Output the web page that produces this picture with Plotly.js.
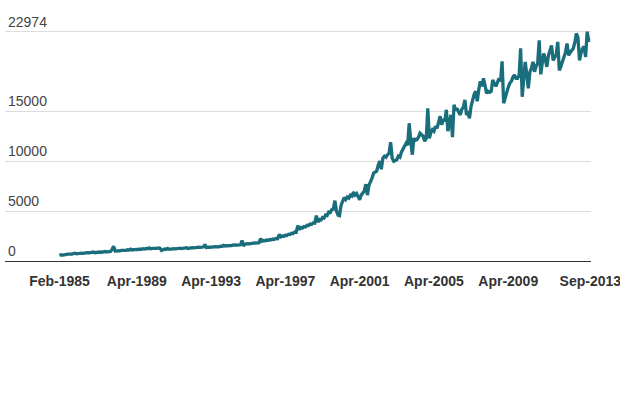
<!DOCTYPE html>
<html>
<head>
<meta charset="utf-8">
<script src="https://cdn.plot.ly/plotly-3.0.1.min.js"></script>
<style>
  html, body { margin: 0; padding: 0; background: #fff; }
  #chart { width: 620px; height: 400px; }
</style>
</head>
<body>
<div id="chart"></div>
<script>
// Monthly values, Feb-1985 .. Sep-2013, one row per year
const startMonth = '1985-02';
const values = [
  550, 620, 590, 650, 630, 680, 660, 710, 690, 740, 780,                       // 1985 (Feb-Dec)
  720, 760, 740, 790, 770, 820, 790, 840, 810, 860, 830, 900,                  // 1986
  830, 870, 850, 900, 880, 930, 900, 950, 920, 980, 960, 1150,                 // 1987
  1480, 1000, 980, 1030, 1010, 1060, 1040, 1090, 1060, 1120, 1090, 1180,       // 1988
  1100, 1140, 1120, 1170, 1150, 1200, 1170, 1230, 1200, 1260, 1230, 1320,      // 1989
  1220, 1260, 1240, 1290, 1270, 1310, 1280, 1050, 1150, 1200, 1180, 1260,      // 1990
  1170, 1210, 1190, 1240, 1220, 1260, 1230, 1280, 1250, 1300, 1270, 1340,      // 1991
  1260, 1300, 1280, 1330, 1310, 1360, 1330, 1390, 1360, 1420, 1400, 1650,      // 1992
  1340, 1380, 1360, 1410, 1390, 1430, 1400, 1450, 1420, 1480, 1460, 1560,      // 1993
  1490, 1530, 1510, 1560, 1540, 1590, 1560, 1610, 1590, 1640, 1620, 2050,      // 1994
  1520, 1700, 1680, 1740, 1720, 1780, 1750, 1820, 1800, 1860, 1840, 2250,      // 1995
  1980, 2050, 2020, 2100, 2080, 2150, 2120, 2200, 2180, 2260, 2240, 2650,      // 1996
  2420, 2500, 2480, 2580, 2560, 2680, 2650, 2780, 2760, 2900, 2880, 3550,      // 1997
  3150, 3350, 3300, 3450, 3420, 3580, 3550, 3700, 3680, 3820, 3800, 4550,      // 1998
  3900, 4150, 4100, 4350, 4300, 4600, 4550, 4900, 4850, 5150, 5200, 6050,      // 1999
  5000, 4600, 4550, 5600, 6000, 6350, 6150, 6400, 6300, 6600, 6500, 6900,      // 2000
  6600, 6750, 6450, 6150, 6600, 6800, 7000, 7700, 6600, 7600, 7900, 8300,      // 2001
  8800, 8900, 9000, 9600, 10000, 9200, 10300, 10500, 10400, 10650, 10800, 11900, // 2002
  10300, 10000, 10100, 10150, 10500, 10400, 10900, 11150, 11500, 11800, 11600, 13800, // 2003
  12000, 10650, 12300, 12100, 12150, 12400, 12800, 12600, 12500, 12000, 12300, 15300, // 2004
  12300, 12900, 13150, 13000, 13500, 13300, 13800, 14500, 13650, 14200, 14000, 15150, // 2005
  13000, 14200, 14650, 12400, 15650, 15100, 15300, 14900, 14650, 15200, 15400, 16150, // 2006
  14650, 14800, 14300, 15500, 16300, 16700, 17000, 16000, 17200, 18000, 17500, 18300, // 2007
  17600, 16800, 17000, 16900, 17000, 18150, 17800, 17500, 17900, 18300, 18000, 20000, // 2008
  15800, 16400, 16800, 17400, 17800, 18000, 18400, 18650, 18300, 18300, 18600, 21300, // 2009
  16450, 18500, 19950, 18700, 17300, 18950, 19300, 19950, 18950, 19500, 19800, 22100, // 2010
  18700, 19900, 20800, 20200, 19450, 20600, 21000, 21600, 20100, 20500, 20700, 21950, // 2011
  19100, 19500, 20000, 20300, 20900, 21800, 20600, 20900, 21100, 21300, 21900, 22800, // 2012
  22400, 20100, 20800, 21300, 21500, 20450, 22974, 22100, 22100                // 2013 (Jan-Sep)
];

const xTicks = ['1985-02-01', '1989-04-01', '1993-04-01', '1997-04-01',
                '2001-04-01', '2005-04-01', '2009-04-01', '2013-09-01'];
const yTicks = [0, 5000, 10000, 15000, 22974];

// month labels for each value
function monthDates(start, n) {
  let [y, m] = start.split('-').map(Number);
  const out = [];
  for (let k = 0; k < n; k++) {
    out.push(y + '-' + String(m).padStart(2, '0') + '-01');
    m++;
    if (m > 12) { m = 1; y++; }
  }
  return out;
}

const dates = monthDates(startMonth, values.length);

const trace = {
  x: dates,
  y: values,
  type: 'scatter',
  mode: 'lines',
  line: { color: '#1a6e7b', width: 3.3 },
  hoverinfo: 'x+y'
};

Plotly.newPlot('chart', [trace], {
  width: 620,
  height: 400,
  margin: { l: 5, r: 29, t: 0, b: 139 },
  paper_bgcolor: 'white',
  plot_bgcolor: 'white',
  showlegend: false,
  font: { family: 'Liberation Sans, Arial, sans-serif' },
  xaxis: {
    type: 'date',
    range: ['1982-02-25', '2013-09-15'],
    tickvals: xTicks,
    tickformat: '%b-%Y',
    ticks: '',
    ticklabeloverflow: 'allow',
    showgrid: false,
    zeroline: false,
    showline: true,
    linecolor: '#333',
    linewidth: 1,
    ticklabelstandoff: 7,
    tickfont: { size: 14, color: '#333', weight: 'bold' }
  },
  yaxis: {
    range: [0, 26150],
    tickvals: yTicks,
    tickformat: 'd',
    ticks: '',
    ticklabelposition: 'inside top',
    showgrid: true,
    gridcolor: '#dcdcdc',
    gridwidth: 1,
    zeroline: false,
    tickfont: { size: 14, color: '#444' }
  }
}, { displayModeBar: false });
</script>
</body>
</html>
